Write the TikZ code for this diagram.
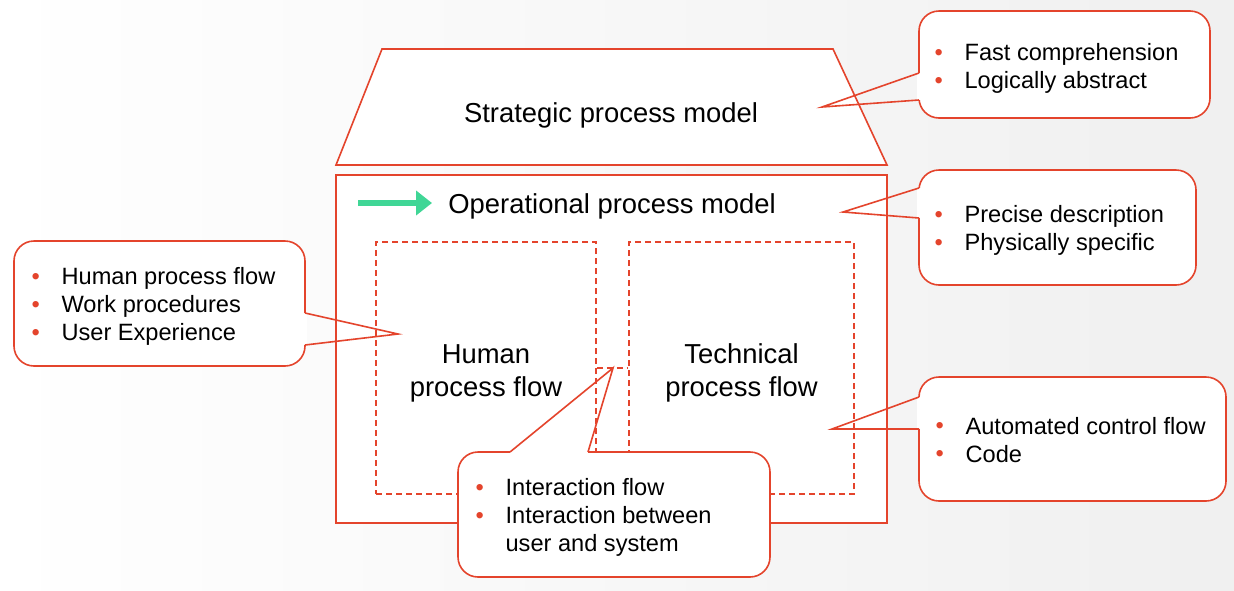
\documentclass[tikz,border=0pt]{standalone}
\usepackage{fontspec}
\setmainfont{Liberation Sans}
\usepackage{xcolor}
\usetikzlibrary{positioning,arrows.meta}
\definecolor{calred}{RGB}{228,68,44}
\definecolor{flowgreen}{RGB}{64,214,150}
\newcommand{\itm}{\makebox[15pt][l]{\raisebox{0.3pt}{\textcolor{calred}{\textbullet}}}}

\begin{document}
\begin{tikzpicture}[x=0.5pt,y=-0.5pt,
	redline/.style={draw=calred, line width=0.8pt},
	dashbox/.style={draw=calred, line width=0.8pt, dash pattern=on 3pt off 2pt},
	callout/.style={redline, rounded corners=10pt, fill=white, inner sep=0pt},
	notetext/.style={anchor=west, align=left, inner sep=0pt, font=\fontsize{11.8}{14}\selectfont},
	bigtext/.style={font=\fontsize{13.7}{16.5}\selectfont, align=center},
	gap/.style={draw=white, line width=1.8pt},
	greenarrow/.style={draw=flowgreen, line width=3pt, -{Triangle[length=8pt,width=12pt]}}]
	\useasboundingbox (0,0) rectangle (1234,590);
	\shade[left color=white, right color=black!6] (0,0) rectangle (1234,590);
	
	% strategic level
	\draw[redline, fill=white] (382,49) -- (833,49) -- (887,165) -- (336,165) -- cycle;
	\node[bigtext] (strat) at (611,115) {Strategic process model};
	
	% operational level
	\node[redline, fill=white, minimum width=275.5pt, minimum height=174pt] (opbox) at (611.5,349) {};
	\node[bigtext, anchor=west, inner sep=0pt] (optitle) at (448,206) {Operational process model};
	\coordinate (arrowstart) at (358,203);
	\draw[greenarrow, shorten >=8pt] (arrowstart) -- (optitle.west |- arrowstart);
	
	\node[dashbox, minimum width=110pt, minimum height=126pt] (humanbox) at (486,368) {};
	\node[dashbox, minimum width=112.5pt, minimum height=126pt] (techbox) at (741.5,368) {};
	\draw[dashbox] (humanbox) -- (techbox);
	\node[bigtext] (humantxt) at ([yshift=-2.5pt]humanbox.center) {Human\\process flow};
	\node[bigtext] (techtxt) at ([yshift=-2.5pt]techbox.center) {Technical\\process flow};
	
	% callouts
	\node[callout, minimum width=145.5pt, minimum height=53.5pt] (fastnote) at (1064.5,64.5) {};
	\node[callout, minimum width=138.5pt, minimum height=57.5pt] (precisenote) at (1057.5,227.5) {};
	\node[callout, minimum width=145.5pt, minimum height=62.5pt] (humannote) at (159.5,303.5) {};
	\node[callout, minimum width=153.5pt, minimum height=62pt] (autonote) at (1072.5,439) {};
	\node[callout, minimum width=156pt, minimum height=62.5pt] (interactnote) at (614,514.5) {};
	
	\node[notetext] (fasttext) at ([xshift=8pt,yshift=-2pt]fastnote.west) {\itm Fast comprehension\\\itm Logically abstract};
	\node[notetext] (precisetext) at ([xshift=8pt,yshift=-1.5pt]precisenote.west) {\itm Precise description\\\itm Physically specific};
	\node[notetext] (humantext) at ([xshift=9pt,yshift=-1.5pt]humannote.west) {\itm Human process flow\\\itm Work procedures\\\itm User Experience};
	\node[notetext] (autotext) at ([xshift=8.5pt,yshift=-0.5pt]autonote.west) {\itm Automated control flow\\\itm Code};
	\node[notetext] (interacttext) at ([xshift=9pt,yshift=-1.5pt]interactnote.west) {\itm Interaction flow\\\itm Interaction between\\\hspace*{15pt}user and system};
	
	\coordinate (fastA) at (919,73);   \coordinate (fastB) at (919,100);   \coordinate (fasttip) at (822,107);
	\coordinate (preciseA) at (919,188); \coordinate (preciseB) at (919,218); \coordinate (precisetip) at (843,212);
	\coordinate (humanA) at (305,313);  \coordinate (humanB) at (305,345);  \coordinate (humantip) at (398,334);
	\coordinate (autoA) at (919,397);   \coordinate (autoB) at (919,429);   \coordinate (autotip) at (832,429);
	\coordinate (interactA) at (510,452); \coordinate (interactB) at (588,452); \coordinate (interacttip) at (613,368);
	
	\foreach \c in {fast,precise,human,auto,interact}{
		\draw[gap] (\c A) -- (\c B);
		\draw[redline, line join=miter] (\c A) -- (\c tip) -- (\c B);
	}
	
\end{tikzpicture}
\end{document}
